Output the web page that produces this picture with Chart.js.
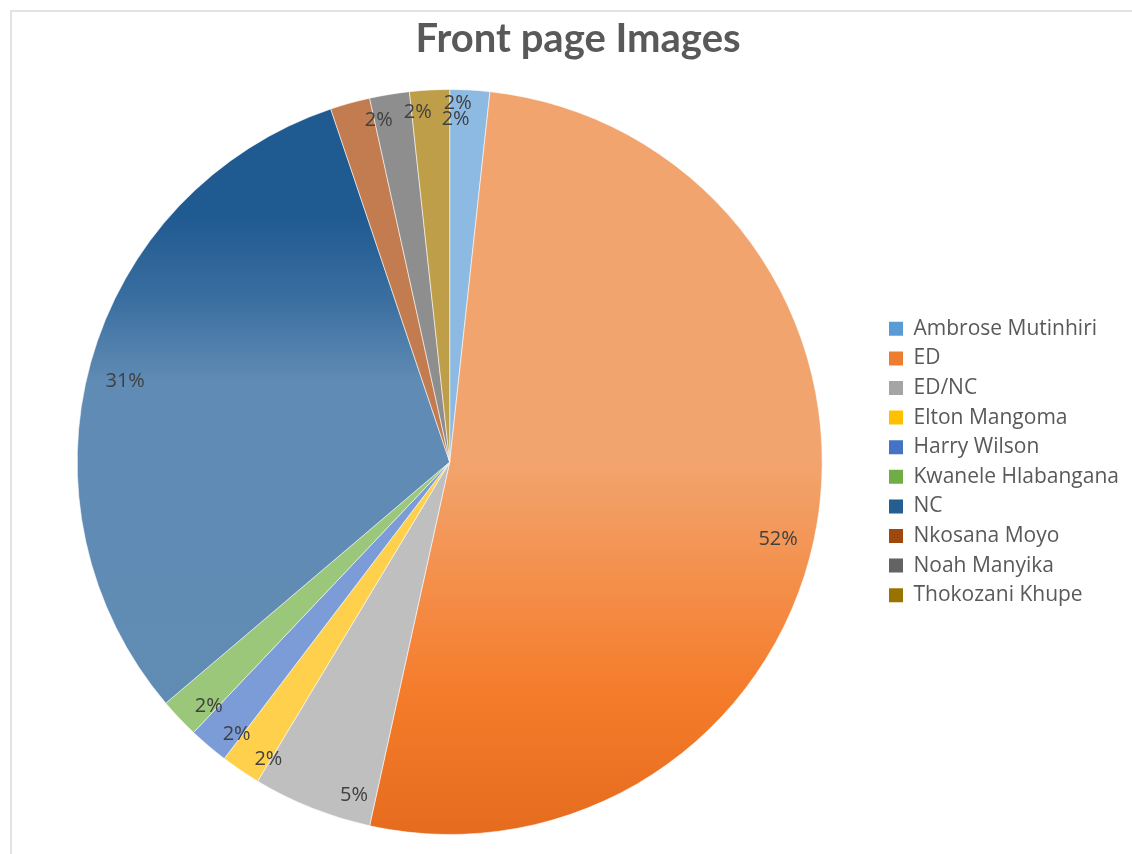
<!DOCTYPE html>
<html>
<head>
<meta charset="utf-8">
<title>Front page Images</title>
<script src="https://cdn.jsdelivr.net/npm/chart.js@4.4.0/dist/chart.umd.min.js"></script>
<style>
  html, body { margin: 0; padding: 0; background: #ffffff; }
  #wrap { width: 1132px; height: 854px; position: relative; }
</style>
</head>
<body>
<div id="wrap"><canvas id="chart" width="1132" height="854"></canvas></div>
<script>
// Who appeared on the front page images
const categories = ['Ambrose Mutinhiri', 'ED', 'ED/NC', 'Elton Mangoma', 'Harry Wilson',
  'Kwanele Hlabangana', 'NC', 'Nkosana Moyo', 'Noah Manyika', 'Thokozani Khupe'];
const imageCounts = [1, 30, 3, 1, 1, 1, 18, 1, 1, 1];
const chartTitle = 'Front page Images';

// Slice fills (flat ones) and legend swatches
const sliceColors = ['#8DBAE3', '#F2A46E', '#BFBFBF', '#FFD04B', '#7B9CD7',
  '#9BC77B', '#1F5A91', '#C27C4F', '#8E8E8E', '#BE9E48'];
const legendColors = ['#5B9BD5', '#ED7D31', '#A5A5A5', '#FFC000', '#4472C4',
  '#70AD47', '#255E91', '#9E480E', '#636363', '#997300'];

// Per-label placement: [angle shift in degrees from slice middle, fraction of radius]
const labelPlacement = [[-1.8, 0.962], [4, 0.906], [-5.7, 0.93], [-2.8, 0.936], [-2.3, 0.928],
  [-2, 0.922], [-1.5, 0.898], [3.8, 0.938], [4.1, 0.944], [4.1, 0.92]];

const total = imageCounts.reduce((a, b) => a + b, 0);
const percentText = v => Math.round(v / total * 100) + '%';

function sliceFill(ctx) {
  const chart = ctx.chart;
  const area = chart.chartArea;
  const i = ctx.dataIndex;
  if (!area) return sliceColors[i];
  const c = chart.ctx;
  const top = area.top, h = area.bottom - area.top;
  if (categories[i] === 'ED') {
    const g = c.createLinearGradient(0, top, 0, top + h);
    g.addColorStop(0, '#F2A46E');
    g.addColorStop(0.5, '#F2A46E');
    g.addColorStop(0.7, '#F48A42');
    g.addColorStop(0.82, '#F47B29');
    g.addColorStop(1, '#E56C1E');
    return g;
  }
  if (categories[i] === 'NC') {
    const g = c.createLinearGradient(0, top, 0, top + h);
    g.addColorStop(0, '#1F5A91');
    g.addColorStop(0.17, '#1F5A91');
    g.addColorStop(0.28, '#3A6EA0');
    g.addColorStop(0.39, '#5F8BB4');
    g.addColorStop(1, '#618DB4');
    return g;
  }
  return sliceColors[i];
}

// Frame and heading
const framePlugin = {
  id: 'frame',
  beforeDraw(chart) {
    const c = chart.ctx;
    c.save();
    c.strokeStyle = '#E3E3E3';
    c.lineWidth = 2;
    c.strokeRect(11, 11, 1200, 1000);
    c.fillStyle = '#595959';
    c.font = 'bold 40px Lato, "Open Sans", sans-serif';
    c.textAlign = 'center';
    c.textBaseline = 'middle';
    c.fillText(chartTitle, 578, 39);
    c.restore();
  }
};

// Percentage labels inside each slice
const sliceLabelPlugin = {
  id: 'sliceLabels',
  afterDatasetsDraw(chart) {
    const c = chart.ctx;
    const meta = chart.getDatasetMeta(0);
    c.save();
    c.font = '20px "Open Sans", sans-serif';
    c.fillStyle = '#404040';
    c.textAlign = 'center';
    c.textBaseline = 'middle';
    meta.data.forEach((arc, i) => {
      const p = arc.getProps(['x', 'y', 'startAngle', 'endAngle', 'outerRadius'], true);
      const [shift, frac] = labelPlacement[i];
      const mid = (p.startAngle + p.endAngle) / 2 + shift * Math.PI / 180;
      const r = p.outerRadius * frac;
      c.fillText(percentText(imageCounts[i]), p.x + Math.cos(mid) * r, p.y + Math.sin(mid) * r);
    });
    c.restore();
  }
};

const chart = new Chart(document.getElementById('chart'), {
  type: 'pie',
  data: {
    labels: categories,
    datasets: [{
      data: imageCounts,
      backgroundColor: sliceFill,
      borderColor: 'rgba(255,255,255,0.55)',
      borderWidth: 1
    }]
  },
  options: {
    responsive: false,
    animation: false,
    layout: { padding: { left: 19, top: 89, right: 13, bottom: 19 } },
    plugins: {
      title: { display: false },
      tooltip: { enabled: false },
      legend: {
        position: 'right',
        align: 'center',
        labels: {
          boxWidth: 14,
          boxHeight: 14,
          padding: 8.6,
          color: '#595959',
          font: { family: '"Open Sans", sans-serif', size: 21 },
          generateLabels() {
            return categories.map((name, i) => ({
              text: name,
              fillStyle: legendColors[i],
              strokeStyle: legendColors[i],
              lineWidth: 0,
              hidden: false,
              index: i,
              fontColor: '#595959'
            }));
          }
        }
      }
    }
  },
  plugins: [framePlugin, sliceLabelPlugin]
});

// keep the legend column where the swatches should start
const legendLeft = 880.4;
const shiftBy = chart.legend.left - legendLeft;
if (Math.abs(shiftBy) > 0.5) {
  chart.options.layout.padding.right += shiftBy;
  chart.update();
}
</script>
</body>
</html>
